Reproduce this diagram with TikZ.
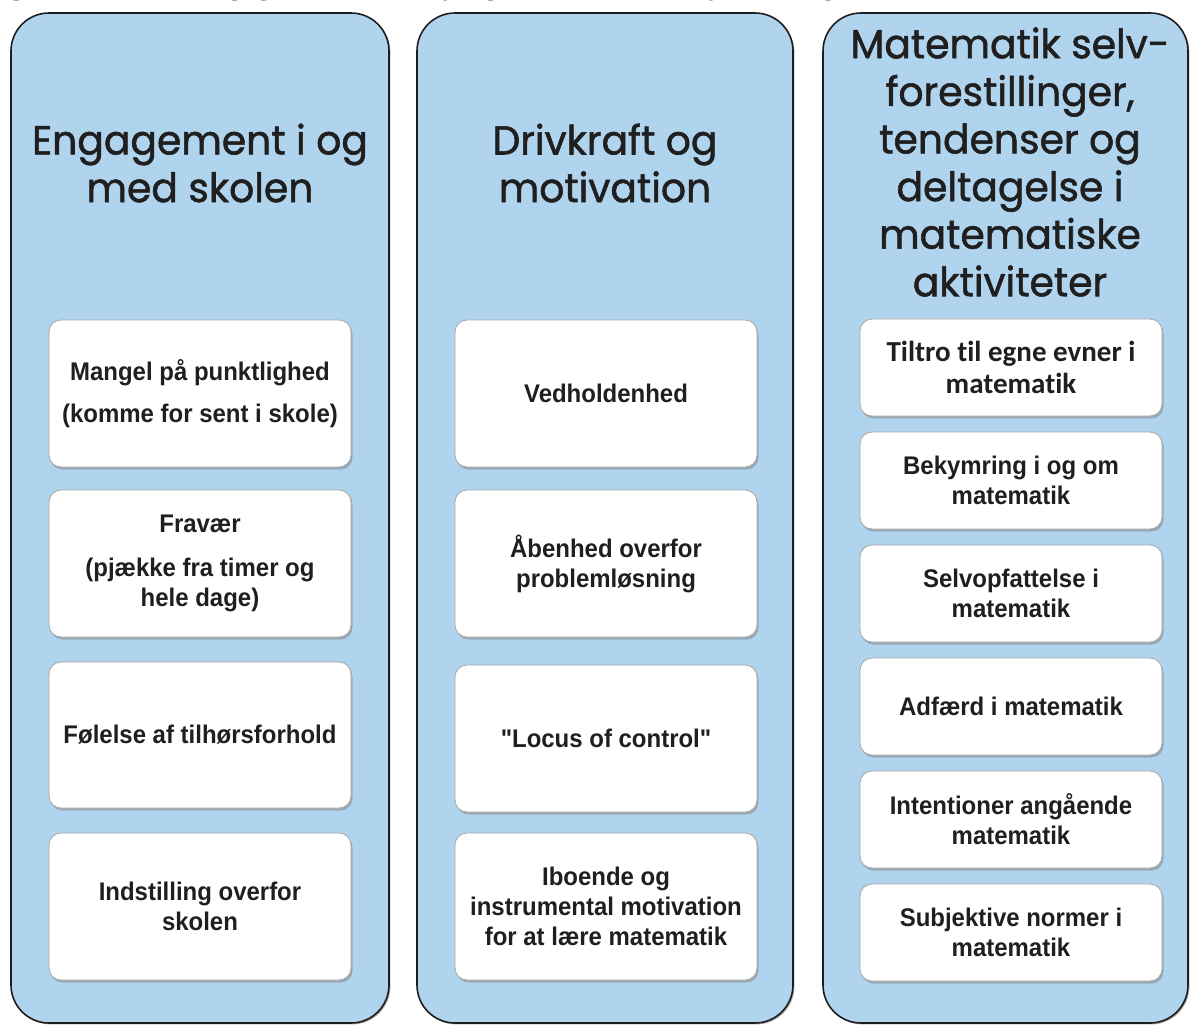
\documentclass[tikz,border=0pt]{standalone}
\usepackage{fontspec}
\usetikzlibrary{shadows}
\newfontfamily\headfont{Poppins}[FakeBold=1.3, FakeStretch=0.97]
\newfontfamily\boxfont{Liberation Sans}[FakeStretch=0.94]
\newfontfamily\calfont{Carlito}[Ligatures=NoCommon]
\newfontfamily\capfont{Open Sans}
\definecolor{colfill}{HTML}{B1D4EE}
\definecolor{colline}{HTML}{1E1E1E}
\definecolor{txt}{HTML}{1F1F1F}
\begin{document}
\begin{tikzpicture}[x=1pt,y=-1pt,
  column/.style={draw=colline, line width=1.6pt, fill=colfill, rounded corners=38pt,
     drop shadow={shadow xshift=1.4pt, shadow yshift=-1.4pt, opacity=0.35, fill=black}},
  item/.style={draw=gray!70, line width=0.8pt, fill=white, rounded corners=12pt,
     minimum width=302pt, inner sep=0pt,
     drop shadow={shadow xshift=1.5pt, shadow yshift=-2.5pt, opacity=0.5, fill=gray}},
  tall/.style={item, minimum height=147pt},
  short/.style={item, minimum height=97pt},
  lbl/.style={align=center, font=\boxfont\bfseries\fontsize{25.5}{30}\selectfont, text=txt},
  head/.style={align=center, font=\headfont\fontsize{40.5}{47.6}\selectfont, text=txt}]
\useasboundingbox (0,0) rectangle (1190,1026);
\begin{scope}
\clip (0,0) rectangle (1190,1026);
\fill[white] (0,0) rectangle (1190,1026);
% caption (cut off at the top)
\node[anchor=base west, inner sep=0pt, font=\capfont\itshape\fontsize{27}{30}\selectfont, text=black!75] (cap) at (-8,-6) {Figur 4.1: Elevers engagement, drivkraft og matematiske selvforestillinger};
% columns
\path[column] (11,13) rectangle (389,1023);
\path[column] (417,13) rectangle (793,1023);
\path[column] (823,13) rectangle (1188,1023);
% headers
\node[head] (h1) at (200,163) {Engagement i og\\med skolen};
\node[head] (h2) at (605,163) {Drivkraft og\\motivation};
\node[head] (h3) at (1010,162) {Matematik selv-\\forestillinger,\\tendenser og\\deltagelse i\\matematiske\\aktiviteter};
% column 1
\node[tall, lbl] (a1) at (200,393.5) {Mangel på punktlighed\\[12pt](komme for sent i skole)};
\node[tall, lbl] (a2) at (200,563.5) {Fravær\\[14pt](pjække fra timer og\\hele dage)};
\node[tall, lbl, minimum height=146pt] (a3) at (200,735) {Følelse af tilhørsforhold};
\node[tall, lbl] (a4) at (200,906.5) {Indstilling overfor\\skolen};
% column 2
\node[tall, lbl] (b1) at (606,393.5) {Vedholdenhed};
\node[tall, lbl] (b2) at (606,563.5) {Åbenhed overfor\\problemløsning};
\node[tall, lbl] (b3) at (606,738.5) {"Locus of control"};
\node[tall, lbl] (b4) at (606,906.5) {Iboende og\\instrumental motivation\\for at lære matematik};
% column 3
\node[short, lbl, font=\calfont\bfseries\fontsize{29}{32}\selectfont] (c1) at (1011,367.5) {Tiltro til egne evner i\\matematik};
\node[short, lbl] (c2) at (1011,480.5) {Bekymring i og om\\matematik};
\node[short, lbl] (c3) at (1011,593.5) {Selvopfattelse i\\matematik};
\node[short, lbl] (c4) at (1011,706.5) {Adfærd i matematik};
\node[short, lbl] (c5) at (1011,819.5) {Intentioner angående\\matematik};
\node[short, lbl] (c6) at (1011,932.5) {Subjektive normer i\\matematik};
\end{scope}
\end{tikzpicture}
\end{document}
